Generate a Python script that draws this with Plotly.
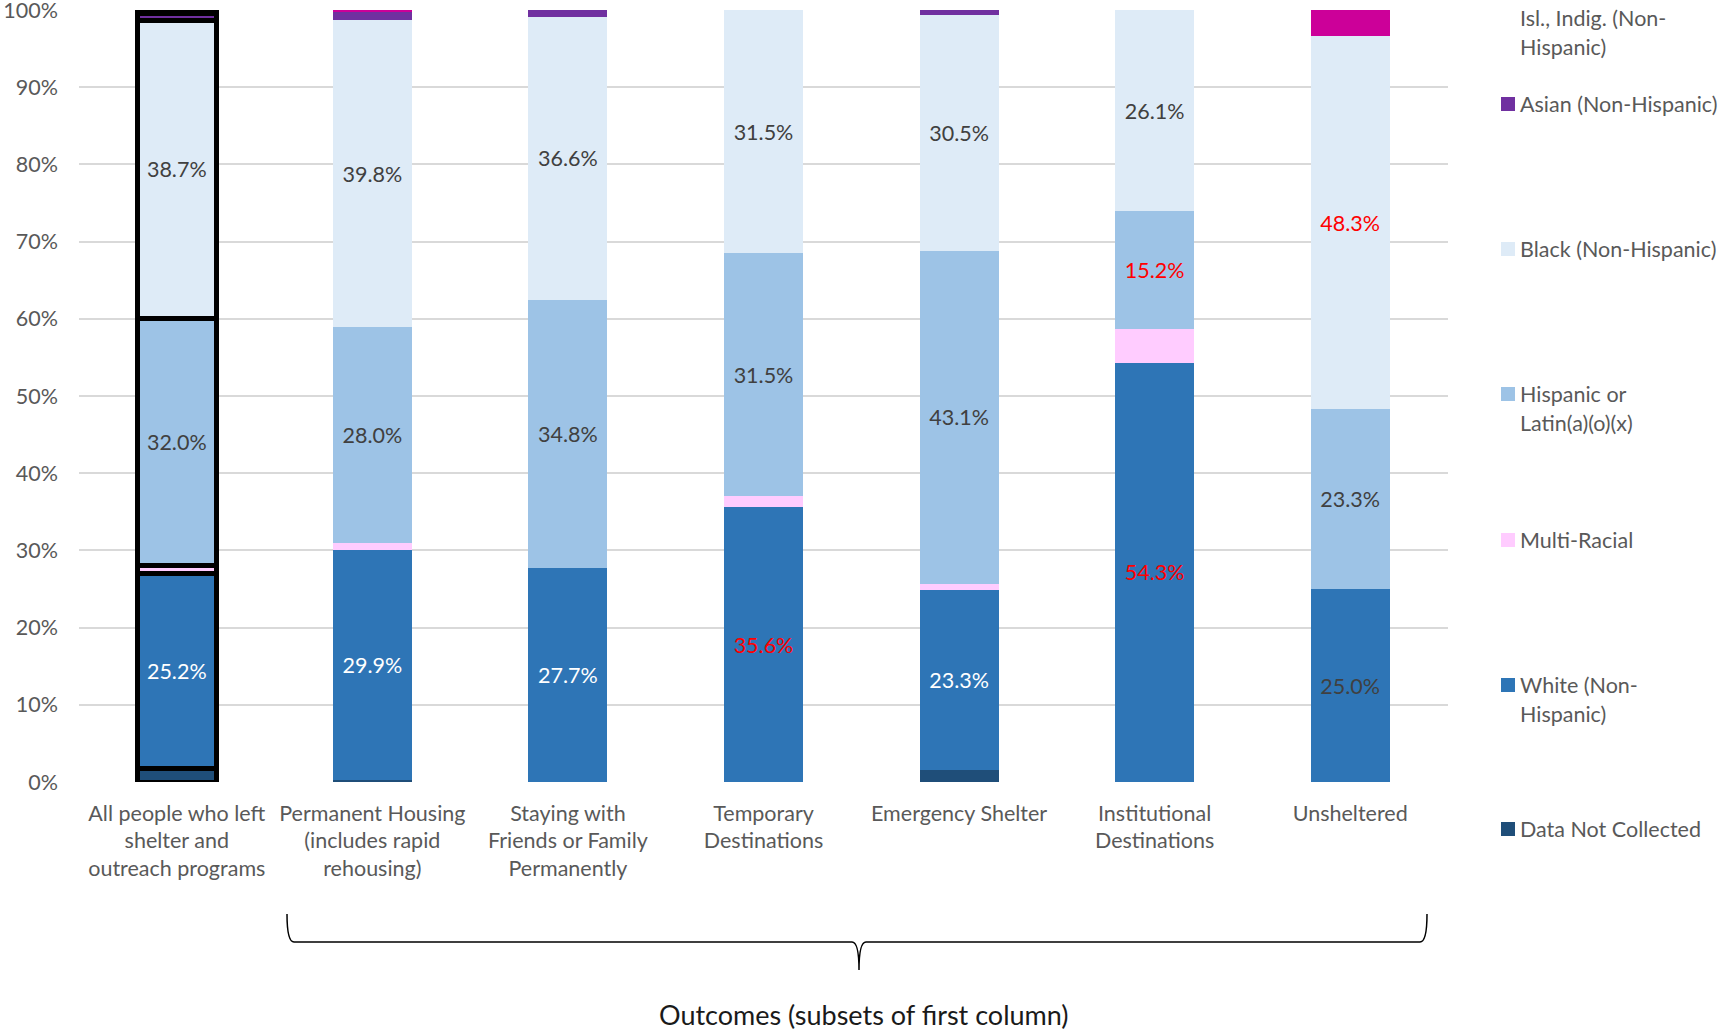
import plotly.graph_objects as go

# Categories (bars) and their axis labels
categories = [
    "All people who left<br>shelter and<br>outreach programs",
    "Permanent Housing<br>(includes rapid<br>rehousing)",
    "Staying with<br>Friends or Family<br>Permanently",
    "Temporary<br>Destinations",
    "Emergency Shelter",
    "Institutional<br>Destinations",
    "Unsheltered",
]

# Share of each group per category (percent), stacked bottom to top
data_not_collected = [1.8, 0.2, 0.0, 0.0, 1.6, 0.0, 0.0]
white = [25.2, 29.9, 27.7, 35.6, 23.3, 54.3, 25.0]
multi_racial = [1.0, 0.8, 0.0, 1.4, 0.8, 4.4, 0.0]
hispanic = [32.0, 28.0, 34.8, 31.5, 43.1, 15.2, 23.3]
black = [38.7, 39.8, 36.6, 31.5, 30.5, 26.1, 48.3]
asian = [0.8, 1.0, 0.9, 0.0, 0.7, 0.0, 0.0]
pacific_indig = [0.5, 0.3, 0.0, 0.0, 0.0, 0.0, 3.4]

y_ticks = list(range(0, 101, 10))
y_tick_text = [f"{v}%" for v in y_ticks]

GREY_TXT = "#404040"
RED = "#ff0000"

series = [
    ("Data Not Collected", data_not_collected, "#1f4e79", None),
    ("White (Non-Hispanic)", white, "#2e75b6",
     ["white", "white", "white", RED, "white", RED, GREY_TXT]),
    ("Multi-Racial", multi_racial, "#ffccff", None),
    ("Hispanic or Latin(a)(o)(x)", hispanic, "#9dc3e6",
     [GREY_TXT] * 5 + [RED, GREY_TXT]),
    ("Black (Non-Hispanic)", black, "#deebf7",
     [GREY_TXT] * 6 + [RED]),
    ("Asian (Non-Hispanic)", asian, "#7030a0", None),
    ("Native Hawaiian/Pacific Isl., Indig. (Non-Hispanic)", pacific_indig, "#cc0099", None),
]

# Wrapped legend text for each series
legend_lines = {
    "Native Hawaiian/Pacific Isl., Indig. (Non-Hispanic)":
        ["Native Hawaiian/Pacific", "Isl., Indig. (Non-", "Hispanic)"],
    "Asian (Non-Hispanic)": ["Asian (Non-Hispanic)"],
    "Black (Non-Hispanic)": ["Black (Non-Hispanic)"],
    "Hispanic or Latin(a)(o)(x)": ["Hispanic or", "Latin(a)(o)(x)"],
    "Multi-Racial": ["Multi-Racial"],
    "White (Non-Hispanic)": ["White (Non-", "Hispanic)"],
    "Data Not Collected": ["Data Not Collected"],
}

FONT = "Lato"
FS = 21.5
W, H = 1727, 1032
ML, MR, MT, MB = 79, 279, 10, 250
PW, PH = W - ML - MR, H - MT - MB


def px(x):
    return (x - ML) / PW


def py(y):
    return (H - MB - y) / PH


fig = go.Figure()

# First column gets a heavy black outline around every segment
outline_w = [5] + [0] * (len(categories) - 1)

for name, vals, color, label_colors in series:
    if label_colors is not None:
        kw = dict(
            text=[f"{v:.1f}%" for v in vals],
            texttemplate="%{text}",
            textposition="inside",
            insidetextanchor="middle",
            textangle=0,
            constraintext="none",
            textfont=dict(family=FONT, size=FS, color=label_colors),
        )
    else:
        kw = dict(textposition="none")
    fig.add_trace(go.Bar(
        x=categories, y=vals, name=name,
        marker=dict(color=color, line=dict(color="black", width=outline_w)),
        showlegend=False, hoverinfo="skip",
        **kw,
    ))

# Custom legend on the right. Each entry lists the pixel row of each text
# line; the marker sits on the first line. The top entry starts above the page.
legend_order = list(reversed(series))
entry_line_y = [
    [-45, 18, 47],
    [104],
    [249],
    [394, 423],
    [540],
    [685, 714],
    [829],
]
annotations = []
shapes = []
for (name, _, color, _), ys in zip(legend_order, entry_line_y):
    shapes.append(dict(
        type="rect", xref="paper", yref="paper",
        x0=px(1501), x1=px(1515), y0=py(ys[0] - 7), y1=py(ys[0] + 7),
        fillcolor=color, line=dict(width=0),
    ))
    for ln, ly in zip(legend_lines[name], ys):
        annotations.append(dict(
            text=ln, xref="paper", yref="paper",
            x=px(1518), y=py(ly),
            xanchor="left", yanchor="middle", showarrow=False,
            font=dict(family=FONT, size=FS, color="#595959"),
        ))

# Curly brace grouping the outcome columns
brace = (
    f"M {px(287)},{py(914)} Q {px(287)},{py(942)} {px(294)},{py(942)} "
    f"L {px(852)},{py(942)} Q {px(859)},{py(942)} {px(859)},{py(970)} "
    f"Q {px(859)},{py(942)} {px(866)},{py(942)} "
    f"L {px(1420)},{py(942)} Q {px(1427)},{py(942)} {px(1427)},{py(914)}"
)
shapes.append(dict(type="path", xref="paper", yref="paper", path=brace,
                   line=dict(color="black", width=1.5)))

annotations.append(dict(
    text="Outcomes (subsets of first column)", xref="paper", yref="paper",
    x=px(864), y=py(1014), xanchor="center", yanchor="middle", showarrow=False,
    font=dict(family=FONT, size=27, color="#1a1a1a"),
))

fig.update_layout(
    width=W, height=H,
    margin=dict(l=ML, r=MR, t=MT, b=MB, pad=0, autoexpand=False),
    barmode="stack", bargap=0.596,
    plot_bgcolor="white", paper_bgcolor="white",
    font=dict(family=FONT, size=FS, color="#595959"),
    shapes=shapes, annotations=annotations,
    showlegend=False,
)
fig.update_xaxes(
    showgrid=False, showline=False, ticks="", zeroline=False,
    tickfont=dict(family=FONT, size=FS, color="#595959"),
    ticklabelstandoff=16, automargin=False,
)
fig.update_yaxes(
    range=[0, 100], tickmode="array", tickvals=y_ticks, ticktext=y_tick_text,
    showgrid=True, gridcolor="#d9d9d9", gridwidth=1.5,
    showline=False, zeroline=False, ticks="",
    tickfont=dict(family=FONT, size=FS, color="#595959"),
    ticklabelstandoff=20, ticklabeloverflow="allow", automargin=False,
)

fig.write_html("out.html")
